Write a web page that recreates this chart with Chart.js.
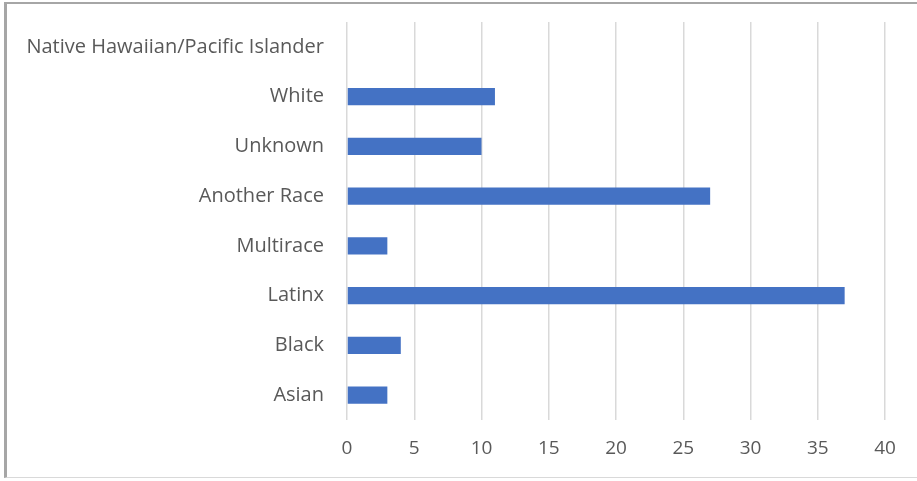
<!DOCTYPE html>
<html>
<head>
<meta charset="utf-8">
<script src="https://cdn.jsdelivr.net/npm/chart.js@4/dist/chart.umd.min.js"></script>
<style>
  html, body { margin: 0; padding: 0; background: #ffffff; }
  #wrap { position: absolute; left: 0; top: 0; width: 917px; height: 481px; }
  #frame { position: absolute; left: 4px; top: 2px; width: 913px; height: 476px;
           border-left: 3px solid #a6a6a6; border-top: 2px solid #a6a6a6;
           border-bottom: 1px solid #d9d9d9; box-sizing: border-box; pointer-events: none; }
</style>
</head>
<body>
<div id="wrap"><canvas id="chart" width="917" height="481"></canvas></div>
<div id="frame"></div>
<script>
// Race / ethnicity categories, listed top to bottom
const categories = [
  "Native Hawaiian/Pacific Islander",
  "White",
  "Unknown",
  "Another Race",
  "Multirace",
  "Latinx",
  "Black",
  "Asian"
];
// Count per category
const counts = [0, 11, 10, 27, 3, 37, 4, 3];
// Value axis tick range
const xMin = 0;
const xMax = 40;
const xStep = 5;

const labelColor = "#595959";
const fontFamily = "'Open Sans', 'Noto Sans', sans-serif";

new Chart(document.getElementById("chart"), {
  type: "bar",
  data: {
    labels: categories,
    datasets: [{
      data: counts,
      backgroundColor: "#4472c4",
      borderWidth: 0,
      barPercentage: 0.35,
      categoryPercentage: 1.0
    }]
  },
  options: {
    indexAxis: "y",
    responsive: false,
    animation: false,
    layout: { padding: { top: 22, right: 32, bottom: 0, left: 0 } },
    plugins: { legend: { display: false }, tooltip: { enabled: false } },
    scales: {
      x: {
        min: xMin,
        max: xMax,
        ticks: { stepSize: xStep, padding: 17, color: labelColor,
                 font: { family: fontFamily, size: 19 } },
        grid: { color: "#d9d9d9", lineWidth: 1.5, drawTicks: false },
        border: { display: false },
        afterFit: (s) => { s.height = 61; s.paddingLeft = 0; s.paddingRight = 0; }
      },
      y: {
        ticks: { padding: 23, color: labelColor,
                 font: { family: fontFamily, size: 20 } },
        grid: { display: false, drawTicks: false },
        border: { display: false },
        afterFit: (s) => { s.width = 347; s.paddingTop = 0; s.paddingBottom = 0; }
      }
    }
  }
});
</script>
</body>
</html>
